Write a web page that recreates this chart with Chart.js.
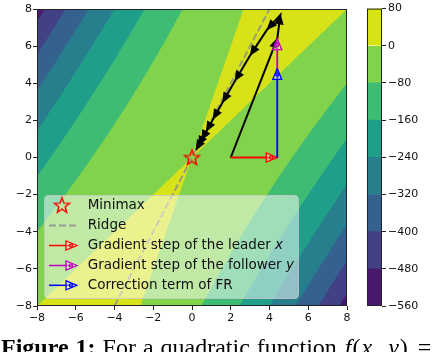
<!DOCTYPE html>
<html>
<head>
<meta charset="utf-8">
<script src="https://cdn.jsdelivr.net/npm/chart.js@4.4.0/dist/chart.umd.min.js"></script>
<style>
    html, body { margin: 0; padding: 0; background: #fff; }
    #wrap { position: relative; width: 440px; height: 352px; overflow: hidden; }
    #main, #cbar { position: absolute; left: 0; top: 0; }
    #caption {
        position: absolute; left: 1px; top: 335px;
        font-family: "Liberation Serif", serif; font-size: 24px; line-height: 24px;
        white-space: nowrap; color: #000; word-spacing: 1px;
    }
    #caption .m { margin-left: 8px; letter-spacing: 1px; }
    #caption .eq { margin-left: 9px; }
</style>
</head>
<body>
<div id="wrap">
    <canvas id="main" width="440" height="352"></canvas>
    <canvas id="cbar" width="440" height="352"></canvas>
    <div id="caption"><b>Figure 1:</b> For a quadratic function<span class="m"><i>f</i>(<i>x</i>, <i>y</i>)</span><span class="eq">=</span></div>
</div>
<script>
// values
var axisTicks = [-8, -6, -4, -2, 0, 2, 4, 6, 8];
var levels = [-560, -480, -400, -320, -240, -160, -80, 0, 80];
var bandColors = ['#48186a', '#424186', '#34618d', '#277f8e', '#1f9e89', '#3fbc73', '#82d34c', '#d7e219'];
// f(x, y) = a*x^2 + b*x*y + c*y^2
var quadCoef = [-3, 4, -1];

var ridgeX = [-4, 4];
var ridgeY = [-8, 8];
var minimaxX = [0];
var minimaxY = [0];
var leaderX = [2, 4.4];
var leaderY = [0, 0];
var correctionX = [4.4, 4.4];
var correctionY = [0, 4.8];
var followerX = [4.4, 4.4];
var followerY = [4.8, 6.4];
var pathX = [2, 4.4, 4.56, 3.89, 3.02, 2.23, 1.59, 1.10, 0.75, 0.50, 0.34, 0.22];
var pathY = [0, 6.4, 7.68, 6.91, 5.53, 4.15, 2.99, 2.09, 1.43, 0.97, 0.65, 0.43];

var legendLabels = ['Minimax', 'Ridge', 'Gradient step of the leader ', 'Gradient step of the follower ', 'Correction term of FR'];
var legendMath = ['', '', 'x', 'y', ''];

var TICK_FONT = { family: 'DejaVu Sans', size: 11 };
var LEGEND_FONT = '13.5px "DejaVu Sans"';

function toPoints(xs, ys) {
    return xs.map(function (x, i) { return { x: x, y: ys[i] }; });
}

function minusSign(v) {
    return String(v).replace('-', '\u2212');
}

function hexToRgb(hex) {
    var n = parseInt(hex.slice(1), 16);
    return [(n >> 16) & 255, (n >> 8) & 255, n & 255];
}

function quadValue(x, y) {
    return quadCoef[0] * x * x + quadCoef[1] * x * y + quadCoef[2] * y * y;
}

function bandOf(v) {
    for (var k = 0; k < bandColors.length; k++) {
        if (v < levels[k + 1]) return Math.max(k, 0);
    }
    return bandColors.length - 1;
}

// 5 point star used for the minimax marker
function starPath(ctx, cx, cy, ro, ri) {
    ctx.beginPath();
    for (var i = 0; i < 10; i++) {
        var r = i % 2 === 0 ? ro : ri;
        var a = -Math.PI / 2 + i * Math.PI / 5;
        var px = cx + r * Math.cos(a), py = cy + r * Math.sin(a);
        if (i === 0) ctx.moveTo(px, py); else ctx.lineTo(px, py);
    }
    ctx.closePath();
}

var starCanvas = document.createElement('canvas');
starCanvas.width = 20;
starCanvas.height = 20;
(function () {
    var c = starCanvas.getContext('2d');
    starPath(c, 10, 10.5, 8, 3.3);
    c.strokeStyle = '#ff0000';
    c.lineWidth = 1.4;
    c.stroke();
})();

function drawHead(ctx, x0, y0, x1, y1, color, open, len, half) {
    var a = Math.atan2(y1 - y0, x1 - x0);
    ctx.save();
    ctx.translate(x1, y1);
    ctx.rotate(a);
    ctx.beginPath();
    ctx.moveTo(0, 0);
    ctx.lineTo(-len, -half);
    ctx.lineTo(-len, half);
    ctx.closePath();
    ctx.lineJoin = 'miter';
    if (open) {
        ctx.fillStyle = 'rgba(255,255,255,0.35)';
        ctx.fill();
        ctx.strokeStyle = color;
        ctx.lineWidth = 1.3;
        ctx.stroke();
        ctx.beginPath();
        ctx.arc(-len * 0.55, 0, 1.6, 0, Math.PI * 2);
        ctx.stroke();
    } else {
        ctx.fillStyle = color;
        ctx.fill();
        ctx.strokeStyle = color;
        ctx.lineWidth = 1;
        ctx.stroke();
    }
    ctx.restore();
}

// filled contours painted through the chart scales
var contourFill = {
    id: 'contourFill',
    beforeDatasetsDraw: function (chart) {
        var area = chart.chartArea, xs = chart.scales.x, ys = chart.scales.y;
        var left = Math.round(area.left), top = Math.round(area.top);
        var w = Math.round(area.right) - left, h = Math.round(area.bottom) - top;
        var rgb = bandColors.map(hexToRgb);
        var img = chart.ctx.createImageData(w, h);
        var sub = [0.25, 0.75];
        for (var j = 0; j < h; j++) {
            for (var i = 0; i < w; i++) {
                var r = 0, g = 0, b = 0;
                for (var a = 0; a < 2; a++) {
                    for (var c = 0; c < 2; c++) {
                        var x = xs.getValueForPixel(left + i + sub[a]);
                        var y = ys.getValueForPixel(top + j + sub[c]);
                        var col = rgb[bandOf(quadValue(x, y))];
                        r += col[0]; g += col[1]; b += col[2];
                    }
                }
                var p = (j * w + i) * 4;
                img.data[p] = r / 4;
                img.data[p + 1] = g / 4;
                img.data[p + 2] = b / 4;
                img.data[p + 3] = 255;
            }
        }
        chart.ctx.putImageData(img, left, top);
    },
    afterDatasetDraw: function (chart, args) {
        var ds = chart.data.datasets[args.index];
        if (!ds.arrowHead) return;
        var pts = args.meta.data;
        var ctx = chart.ctx;
        for (var i = 1; i < pts.length; i++) {
            drawHead(ctx, pts[i - 1].x, pts[i - 1].y, pts[i].x, pts[i].y, ds.borderColor,
                ds.arrowHead === 'open', ds.arrowHead === 'open' ? 11 : 9, ds.arrowHead === 'open' ? 4.5 : 3.8);
        }
    },
    afterDatasetsDraw: function (chart) {
        var a = chart.chartArea, ctx = chart.ctx;
        ctx.save();
        ctx.strokeStyle = '#222';
        ctx.lineWidth = 1;
        ctx.strokeRect(a.left + 0.5, a.top + 0.5, a.right - a.left - 1, a.bottom - a.top - 1);
        ctx.restore();
    },
    afterDraw: function (chart) {
        var ctx = chart.ctx;
        ctx.save();
        var bx = 44.5, by = 195.5, bw = 254, bh = 103;
        ctx.beginPath();
        ctx.roundRect(bx, by, bw, bh, 4);
        ctx.fillStyle = 'rgba(255,255,255,0.5)';
        ctx.fill();
        ctx.strokeStyle = 'rgba(200,200,200,0.8)';
        ctx.lineWidth = 1;
        ctx.stroke();

        var rowY = [205.7, 225.6, 245.5, 265.5, 285.3];
        var handleCol = ['#ff0000', 'rgba(140,140,140,0.8)', '#ff0000', '#bf00bf', '#0000ff'];
        for (var k = 0; k < legendLabels.length; k++) {
            var yy = rowY[k];
            if (k === 0) {
                ctx.drawImage(starCanvas, 62 - 10, yy - 10.5);
            } else if (k === 1) {
                ctx.beginPath();
                ctx.setLineDash([7, 3]);
                ctx.moveTo(49, yy);
                ctx.lineTo(77, yy);
                ctx.strokeStyle = handleCol[k];
                ctx.lineWidth = 2;
                ctx.stroke();
                ctx.setLineDash([]);
            } else {
                ctx.beginPath();
                ctx.moveTo(49, yy);
                ctx.lineTo(72, yy);
                ctx.strokeStyle = handleCol[k];
                ctx.lineWidth = 1.5;
                ctx.stroke();
                drawHead(ctx, 49, yy, 77, yy, handleCol[k], true, 11, 4.5);
            }
            ctx.fillStyle = '#111';
            ctx.textBaseline = 'middle';
            ctx.font = LEGEND_FONT;
            ctx.fillText(legendLabels[k], 87.7, yy);
            if (legendMath[k]) {
                var tw = ctx.measureText(legendLabels[k]).width;
                ctx.font = 'italic ' + LEGEND_FONT;
                ctx.fillText(legendMath[k], 87.7 + tw, yy);
            }
        }
        ctx.restore();
    }
};

new Chart(document.getElementById('main'), {
    type: 'scatter',
    data: {
        datasets: [{
            data: toPoints(minimaxX, minimaxY),
            pointStyle: starCanvas,
            pointRadius: 8,
            order: 0
        }, {
            type: 'line',
            data: toPoints(followerX, followerY),
            borderColor: '#bf00bf',
            borderWidth: 1.8,
            pointRadius: 0,
            arrowHead: 'open',
            order: 1
        }, {
            type: 'line',
            data: toPoints(correctionX, correctionY),
            borderColor: '#0000ff',
            borderWidth: 1.8,
            pointRadius: 0,
            arrowHead: 'open',
            order: 2
        }, {
            type: 'line',
            data: toPoints(leaderX, leaderY),
            borderColor: '#ff0000',
            borderWidth: 1.8,
            pointRadius: 0,
            arrowHead: 'open',
            order: 3
        }, {
            type: 'line',
            data: toPoints(pathX, pathY),
            borderColor: '#000000',
            borderWidth: 2,
            pointRadius: 0,
            arrowHead: 'filled',
            order: 4
        }, {
            type: 'line',
            data: toPoints(ridgeX, ridgeY),
            borderColor: 'rgba(140,140,140,0.8)',
            borderDash: [7, 3],
            borderWidth: 2,
            pointRadius: 0,
            order: 5
        }]
    },
    options: {
        responsive: false,
        animation: false,
        events: [],
        layout: { padding: { top: 4, right: 93, bottom: 26, left: 0 } },
        plugins: { legend: { display: false }, tooltip: { enabled: false } },
        scales: {
            x: {
                type: 'linear', min: -8, max: 8,
                afterBuildTicks: function (s) { s.ticks = axisTicks.map(function (v) { return { value: v }; }); },
                ticks: { font: TICK_FONT, color: '#111', padding: 2, maxRotation: 0, autoSkip: false, callback: minusSign },
                grid: { drawOnChartArea: false, tickLength: 4, color: '#222' },
                border: { display: false },
                afterFit: function (s) { s.height = 20; }
            },
            y: {
                type: 'linear', min: -8, max: 8,
                afterBuildTicks: function (s) { s.ticks = axisTicks.map(function (v) { return { value: v }; }); },
                ticks: { font: TICK_FONT, color: '#111', padding: 1, autoSkip: false, callback: minusSign },
                grid: { drawOnChartArea: false, tickLength: 4, color: '#222' },
                border: { display: false },
                afterFit: function (s) { s.width = 37; }
            }
        }
    },
    plugins: [contourFill]
});

// colour bar
var cbarFrame = {
    id: 'cbarFrame',
    afterDatasetsDraw: function (chart) {
        var a = chart.chartArea, ctx = chart.ctx;
        ctx.save();
        ctx.strokeStyle = '#222';
        ctx.lineWidth = 1;
        ctx.strokeRect(a.left + 0.5, a.top + 0.5, a.right - a.left - 1, a.bottom - a.top - 1);
        ctx.restore();
    }
};

new Chart(document.getElementById('cbar'), {
    type: 'bar',
    data: {
        labels: [''],
        datasets: bandColors.map(function (c, k) {
            return {
                data: [[levels[k], levels[k + 1]]],
                backgroundColor: c,
                borderWidth: 0,
                grouped: false,
                barPercentage: 1,
                categoryPercentage: 1
            };
        })
    },
    options: {
        responsive: false,
        animation: false,
        events: [],
        layout: { padding: { top: 4, right: 0, bottom: 46, left: 367 } },
        plugins: { legend: { display: false }, tooltip: { enabled: false } },
        scales: {
            x: { display: false },
            y: {
                position: 'right', min: -560, max: 80,
                afterBuildTicks: function (s) { s.ticks = levels.map(function (v) { return { value: v }; }); },
                ticks: { font: TICK_FONT, color: '#111', padding: 2, autoSkip: false, callback: minusSign },
                grid: { drawOnChartArea: false, tickLength: 4, color: '#222' },
                border: { display: false },
                afterFit: function (s) { s.width = 58; }
            }
        }
    },
    plugins: [cbarFrame]
});
</script>
</body>
</html>
